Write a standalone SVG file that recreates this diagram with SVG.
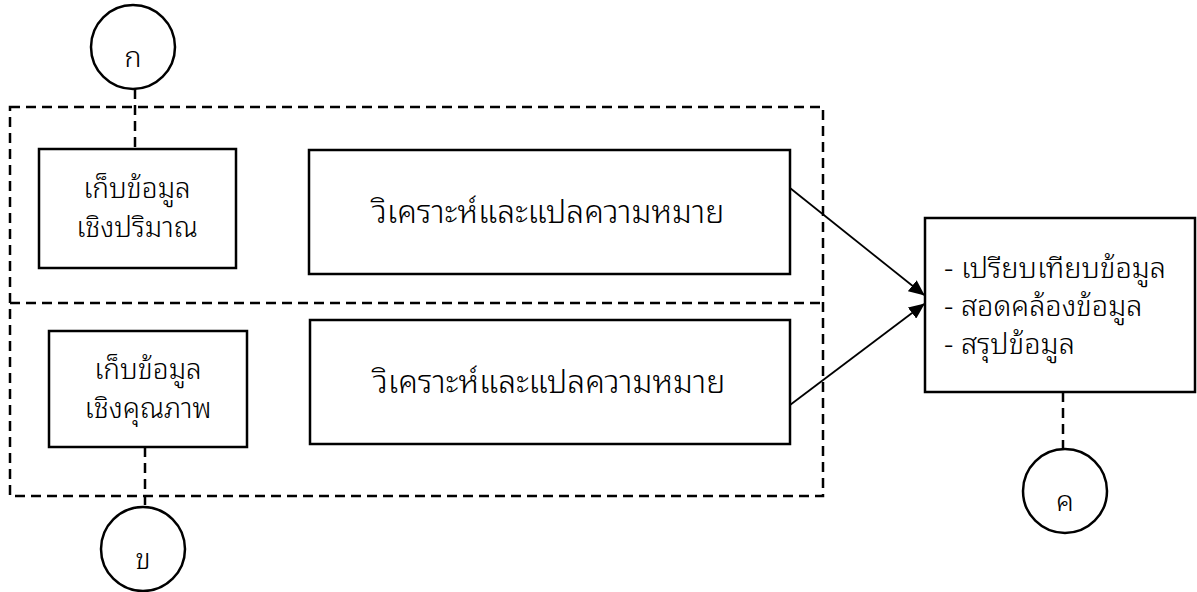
<svg xmlns="http://www.w3.org/2000/svg" width="1197" height="592" viewBox="0 0 1197 592">
  <style>
    .box { fill: #fff; stroke: #000; stroke-width: 2.5; }
    .circ { fill: #fff; stroke: #000; stroke-width: 2.5; }
    .dash { fill: none; stroke: #000; stroke-width: 2.5; stroke-dasharray: 10 6; }
    .arrow { fill: none; stroke: #000; stroke-width: 1.8; marker-end: url(#head); }
    text { font-family: "Noto Sans Thai Looped", "Noto Sans Thai", "Noto Sans", "DejaVu Sans", sans-serif; font-weight: 300; font-size: 29px; fill: #000; }
    .c { text-anchor: middle; }
    .big { font-size: 32px; }
    .small { font-size: 28px; }
  </style>
  <defs>
    <marker id="head" markerWidth="16" markerHeight="14" refX="15" refY="7" orient="auto" markerUnits="userSpaceOnUse" viewBox="0 0 16 14">
      <path d="M0,0 L16,7 L0,14 z" fill="#000"/>
    </marker>
  </defs>

  <!-- grouping frames -->
  <g id="frames">
    <rect class="dash" x="10" y="107" width="813" height="389"/>
    <line class="dash" x1="10" y1="303" x2="823" y2="303"/>
  </g>

  <!-- connectors -->
  <g id="connectors">
    <line class="dash" x1="135" y1="89" x2="135" y2="149"/>
    <line class="dash" x1="145" y1="447" x2="145" y2="507"/>
    <line class="dash" x1="1063" y1="392" x2="1063" y2="449"/>
    <line class="arrow" x1="790" y1="188" x2="924" y2="295"/>
    <line class="arrow" x1="790" y1="405" x2="924" y2="304"/>
  </g>

  <g id="start-a">
    <circle class="circ" cx="133" cy="47" r="42"/>
    <text class="c" x="133" y="67">ก</text>
  </g>

  <g id="collect-quant">
    <rect class="box" x="39" y="149" width="197" height="119"/>
    <text class="c small" x="137" y="198">เก็บข้อมูล</text>
    <text class="c small" x="137" y="237">เชิงปริมาณ</text>
  </g>

  <g id="analyze-quant">
    <rect class="box" x="309" y="150" width="481" height="124"/>
    <text class="c big" x="548" y="223">วิเคราะห์และแปลความหมาย</text>
  </g>

  <g id="collect-qual">
    <rect class="box" x="49" y="331" width="198" height="116"/>
    <text class="c small" x="148" y="379">เก็บข้อมูล</text>
    <text class="c small" x="148" y="418">เชิงคุณภาพ</text>
  </g>

  <g id="analyze-qual">
    <rect class="box" x="310" y="320" width="480" height="124"/>
    <text class="c big" x="549" y="393">วิเคราะห์และแปลความหมาย</text>
  </g>

  <g id="end-b">
    <circle class="circ" cx="143" cy="549" r="42"/>
    <text class="c" x="143" y="569">ข</text>
  </g>

  <g id="synthesis">
    <rect class="box" x="925" y="218" width="270" height="174"/>
    <text x="944" y="278">- เปรียบเทียบข้อมูล</text>
    <text x="944" y="316">- สอดคล้องข้อมูล</text>
    <text x="944" y="354">- สรุปข้อมูล</text>
  </g>

  <g id="end-c">
    <circle class="circ" cx="1065" cy="491" r="42"/>
    <text class="c" x="1065" y="511">ค</text>
  </g>
</svg>
